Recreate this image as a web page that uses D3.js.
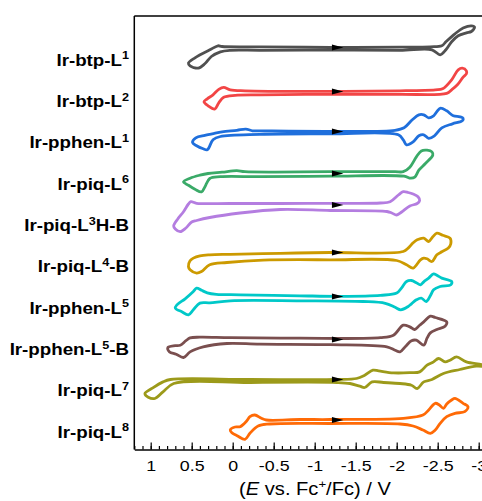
<!DOCTYPE html>
<html>
<head>
<meta charset="utf-8">
<script src="https://cdn.jsdelivr.net/npm/d3@7"></script>
<style>
  body { margin: 0; background: #fff; }
  svg { display: block; font-family: "Liberation Sans", Arial, sans-serif; }
</style>
</head>
<body>
<div id="chart"></div>
<script>
// compound labels (main text, superscript, tail)
var labelMain = ["Ir-btp-L", "Ir-btp-L", "Ir-pphen-L", "Ir-piq-L", "Ir-piq-L",
                 "Ir-piq-L", "Ir-pphen-L", "Ir-pphen-L", "Ir-piq-L", "Ir-piq-L"];
var labelSup  = ["1", "2", "1", "6", "3", "4", "5", "5", "7", "8"];
var labelTail = ["", "", "", "", "H-B", "-B", "", "-B", "", ""];

var colors = ["#505050", "#f24545", "#1f6fdc", "#3aaa68", "#b47de0",
              "#cc9a00", "#00c8c8", "#7a4f4f", "#9c9a1a", "#ff6a06"];

// vertical offset of each voltammogram (a.u.)
var offsets = [402, 358, 318, 276, 244.5, 197, 153, 110, 70, 29.5];

var majorTicks = [1, 0.5, 0, -0.5, -1, -1.5, -2, -2.5, -3];

// scan direction arrow (E, V)
var arrowFrom = -1.21, arrowTo = -1.35;

// CV loops: [E (V vs Fc+/Fc), current (a.u.)]
var cv1 = [[-2.55,1.7],[-2.60,5.7],[-2.71,13.7],[-2.81,19.4],[-2.91,21.7],[-2.95,20.4],[-2.91,16],[-2.85,14.7],
  [-2.75,11.7],[-2.67,5.7],[-2.60,-2.3],[-2.53,-7.3],[-2.43,-2.3],[-2.04,-2.8],[-1.19,-2.6],[-0.33,-2.8],[0.03,-2.8],
  [0.15,-4.3],[0.26,-9],[0.34,-16.3],[0.42,-20.6],[0.52,-18.3],[0.54,-15.6],[0.46,-10.3],[0.26,-1.6],[0.18,1.7],
  [0.13,1],[-0.33,0.7],[-1.19,0.2],[-2.04,0.4],[-2.41,0.7]];
var cv2 = [[-2.56,2.7],[-2.67,11.7],[-2.75,21.7],[-2.80,23.4],[-2.85,20.7],[-2.85,17.7],[-2.81,14.4],[-2.74,6.7],
  [-2.67,1.7],[-2.61,-1.8],[-2.04,-2.8],[-1.19,-2.8],[-0.33,-3.3],[-0.03,-3.8],[0.11,-5.8],[0.17,-11.3],[0.22,-17.6],
  [0.30,-14.3],[0.35,-10.3],[0.31,-7.3],[0.24,-3.3],[0.17,2.2],[0.11,4.2],[0.03,1.7],[-0.15,0.7],[-1.19,0.2],
  [-2.04,0.7],[-2.47,1.7]];
var cv3 = [[-0.29,0.7],[-1.19,0.2],[-1.98,1.2],[-2.09,3.7],[-2.19,11.7],[-2.27,16.7],[-2.33,16.7],[-2.39,13.7],
  [-2.45,15.7],[-2.53,23.2],[-2.61,20.7],[-2.69,15.7],[-2.77,14.7],[-2.81,13.2],[-2.80,10.7],[-2.68,7.7],[-2.55,3.7],
  [-2.46,-4.3],[-2.39,-6.8],[-2.33,-3.3],[-2.27,-4.3],[-2.20,-10.3],[-2.12,-13.3],[-2.08,-8.3],[-2.02,-3.3],
  [-1.19,-2.3],[-0.33,-2.8],[0.15,-5],[0.24,-8.3],[0.31,-18.3],[0.36,-17.3],[0.44,-14.3],[0.49,-11],[0.45,-6.3],
  [0.34,-3.8],[0.25,-2.3],[0.13,-0.3],[-0.05,1.2],[-0.16,2.4],[-0.24,0.7]];
var cv4 = [[-2.08,1.8],[-2.16,6.3],[-2.24,16.6],[-2.30,22.6],[-2.37,23.3],[-2.43,21.6],[-2.44,18.3],[-2.35,10],
  [-2.27,3.3],[-2.22,-3.7],[-2.17,-4.7],[-2.09,-2.7],[-1.19,-2.7],[-0.33,-3.2],[0.15,-3.2],[0.28,-5],[0.34,-13.4],
  [0.38,-18.4],[0.46,-15.7],[0.54,-11.7],[0.60,-8.4],[0.52,-4.7],[0.40,-1.7],[0.30,0],[0.13,1.3],[-0.05,2.8],
  [-0.15,1.8],[-1.19,1.8],[-1.98,1.8]];
var cv5 = [[-1.80,2],[-1.92,3.3],[-2.02,10],[-2.08,13.3],[-2.14,12.5],[-2.20,11],[-2.26,8.3],[-2.28,4.5],[-2.25,1.5],
  [-2.16,-1],[-2.06,-7],[-2.00,-10],[-1.94,-8],[-1.88,-6.5],[-1.19,-5.5],[-0.58,-4.5],[-0.09,-8],[0.28,-12.5],
  [0.44,-15.5],[0.50,-17],[0.57,-23],[0.64,-26.7],[0.70,-24],[0.72,-21],[0.67,-14],[0.60,-6.7],[0.54,1],[0.51,3.3],
  [0.44,1.7],[0.03,1.5],[-0.58,1.5],[-1.19,1.7]];
var cv6 = [[-2.08,1],[-2.14,4.4],[-2.20,9.7],[-2.25,12.7],[-2.33,14.4],[-2.39,11],[-2.44,15.7],[-2.49,19.4],
  [-2.56,17.2],[-2.65,14.4],[-2.66,8.7],[-2.63,4.4],[-2.55,0.7],[-2.49,-2.3],[-2.43,-9],[-2.37,-6.3],[-2.33,-5.6],
  [-2.29,-7.3],[-2.20,-15.6],[-2.12,-12.3],[-2.00,-8],[-1.19,-7.3],[-0.37,-7.6],[0.07,-10],[0.28,-12.3],[0.38,-19],
  [0.44,-20.6],[0.52,-17.3],[0.54,-14],[0.52,-8.3],[0.48,-5.6],[0.40,-3.3],[0.28,-2.3],[0.03,-1.8],[-0.58,-0.8],
  [-1.19,0]];
var cv7 = [[-1.80,1.2],[-2.00,3.4],[-2.06,8.7],[-2.12,15],[-2.18,16],[-2.24,13.7],[-2.29,11.7],[-2.33,14.7],
  [-2.39,18.4],[-2.45,22.7],[-2.49,21.2],[-2.55,18.4],[-2.67,15],[-2.66,11.7],[-2.53,10],[-2.45,6.7],[-2.41,0.7],
  [-2.36,-5],[-2.30,-1.6],[-2.24,-3.3],[-2.18,-7.3],[-2.14,-10],[-2.05,-13.3],[-1.98,-10.8],[-1.86,-6.8],
  [-1.59,-5],[-0.82,-4.3],[0.03,-4.3],[0.28,-6.3],[0.40,-6.6],[0.48,-13.3],[0.54,-18.3],[0.62,-15.3],[0.70,-11.6],
  [0.68,-8.3],[0.58,-2.3],[0.48,5],[0.44,8.4],[0.38,6.2],[0.31,3.7],[0.20,2.2],[-0.09,1.7],[-0.82,0.7],[-1.31,0.2]];
var cv8 = [[-1.80,1.8],[-1.96,4.3],[-2.08,14.3],[-2.16,12.6],[-2.22,10],[-2.28,14.3],[-2.33,17.6],[-2.41,23.3],
  [-2.47,22],[-2.61,17.6],[-2.59,13.3],[-2.49,10],[-2.41,6.6],[-2.37,1.3],[-2.33,-5.7],[-2.24,-0.7],[-2.18,-1.2],
  [-2.11,-6.7],[-2.04,-12.4],[-1.98,-10.7],[-1.88,-7.4],[-1.19,-5.2],[-0.33,-4.7],[0.07,-4],[0.36,-7.4],
  [0.52,-12.4],[0.60,-18],[0.69,-14.7],[0.77,-12.4],[0.79,-8],[0.70,-6.2],[0.64,-5.7],[0.57,-1.2],[0.52,1.6],
  [0.40,2.3],[0.03,1.8],[-0.82,1.3]];
var cv9 = [[0.76,0],[-0.21,0],[-1.27,0],[-1.51,1],[-1.61,4.3],[-1.71,9.3],[-1.78,8.6],[-1.96,6.6],[-2.16,6.8],
  [-2.28,7.6],[-2.37,14.3],[-2.45,17.6],[-2.51,21],[-2.59,17.6],[-2.65,19.3],[-2.73,22.6],[-2.85,17.6],
  [-3.04,14.8],[-3.08,13.3],[-2.97,13.3],[-2.77,10],[-2.57,6],[-2.43,0],[-2.33,-2.4],[-2.25,-9],[-2.18,-5.7],
  [-2.04,-4],[-1.84,-3],[-1.70,-2.4],[-1.61,-8],[-1.55,-6.7],[-1.43,-4],[-1.27,-3],[-0.21,-3],[0.72,-4],
  [0.85,-12.4],[0.95,-19],[1.03,-17.7],[1.07,-14],[0.98,-8.7],[0.85,-2.4]];
var cv10 = [[-1.19,0.5],[-2.08,1.7],[-2.32,5],[-2.39,10],[-2.47,16.7],[-2.52,15],[-2.57,11.7],[-2.61,16],
  [-2.67,20],[-2.71,21.7],[-2.81,16.7],[-2.87,13.3],[-2.83,8.3],[-2.71,6.7],[-2.61,3.3],[-2.53,-3.3],[-2.47,-10],
  [-2.41,-13.3],[-2.32,-10],[-2.20,-6],[-2.04,-4],[-1.19,-3.5],[-0.45,-4],[-0.31,-6],[-0.21,-13.3],[-0.15,-19.3],
  [-0.06,-16],[0.01,-12.7],[0.03,-10],[-0.03,-7],[-0.09,-6.7],[-0.17,-1],[-0.21,3.3],[-0.27,5],[-0.35,1.7],
  [-0.41,0],[-0.82,0.5]];

var curves = [cv1, cv2, cv3, cv4, cv5, cv6, cv7, cv8, cv9, cv10];

var width = 482, height = 501;
var plotLeft = 134.3, plotTop = 16, plotBottom = 449.5;
var stretch = 1.15; // the figure's text is a bit wider than it is tall

var x = d3.scaleLinear().domain([1.2, -3.2]).range([plotLeft, plotLeft + 4.4 * 82]);
var y = d3.scaleLinear().domain([0, 433.5]).range([plotBottom, plotTop]);

var svg = d3.select("#chart").append("svg")
  .attr("width", width)
  .attr("height", height);

svg.append("clipPath").attr("id", "clip")
  .append("rect")
  .attr("x", plotLeft).attr("y", plotTop)
  .attr("width", width - plotLeft).attr("height", plotBottom - plotTop);

// traces
var line = d3.line().curve(d3.curveCatmullRomClosed.alpha(0.5));
var traces = svg.append("g").attr("clip-path", "url(#clip)");

curves.forEach(function(c, i) {
  traces.append("path")
    .attr("d", line(c.map(function(p) { return [x(p[0]), y(offsets[i] + p[1])]; })))
    .attr("fill", "none")
    .attr("stroke", colors[i])
    .attr("stroke-width", 2.8)
    .attr("stroke-linejoin", "round");
});

// scan direction arrows
svg.append("g").selectAll("path")
  .data(offsets)
  .enter().append("path")
  .attr("d", function(o) {
    return "M" + x(arrowFrom) + "," + y(o + 3) +
           "L" + x(arrowTo) + "," + y(o) +
           "L" + x(arrowFrom) + "," + y(o - 3) + "Z";
  })
  .attr("fill", "#000");

// frame (left and top)
svg.append("line")
  .attr("x1", plotLeft).attr("x2", plotLeft)
  .attr("y1", plotTop).attr("y2", plotBottom)
  .attr("stroke", "#000").attr("stroke-width", 1.5);
svg.append("line")
  .attr("x1", plotLeft).attr("x2", width)
  .attr("y1", plotTop).attr("y2", plotTop)
  .attr("stroke", "#000").attr("stroke-width", 1.5);

// x axis, minor then major ticks
var minorTicks = d3.range(12, -33, -1).map(function(v) { return v / 10; });

svg.append("g")
  .attr("transform", "translate(0," + plotBottom + ")")
  .call(d3.axisBottom(x).tickValues(minorTicks).tickSizeInner(-3.5).tickSizeOuter(0).tickFormat(""))
  .call(function(g) { g.select(".domain").remove(); })
  .selectAll("line").attr("stroke-width", 1.2);

var xAxis = svg.append("g")
  .attr("transform", "translate(0," + plotBottom + ")")
  .call(d3.axisBottom(x).tickValues(majorTicks).tickSizeInner(-7).tickSizeOuter(0)
    .tickPadding(10.5).tickFormat(function(d) { return String(d); }));
xAxis.select(".domain").attr("stroke-width", 1.5);
xAxis.selectAll("line").attr("stroke-width", 1.2);
xAxis.selectAll("text")
  .attr("font-size", 15.5)
  .attr("font-family", "'Liberation Sans', Arial, sans-serif")
  .attr("fill", "#000")
  .attr("transform", "scale(" + stretch + ",1)");

// axis title
var title = svg.append("text")
  .attr("transform", "translate(315,495) scale(" + stretch + ",1)")
  .attr("text-anchor", "middle")
  .attr("font-size", 17.5);
title.append("tspan").text("(");
title.append("tspan").attr("font-style", "italic").text("E");
title.append("tspan").text(" vs. Fc");
title.append("tspan").attr("font-size", 11.5).attr("dy", -7).text("+");
title.append("tspan").attr("dy", 7).text("/Fc) / V");

// compound labels
var labelY = d3.scalePoint().domain(d3.range(labelMain.length)).range([60, 432]);

labelMain.forEach(function(m, i) {
  var t = svg.append("text")
    .attr("transform", "translate(129," + (labelY(i) + 5.8) + ") scale(" + stretch + ",1)")
    .attr("text-anchor", "end")
    .attr("font-weight", "bold")
    .attr("font-size", 16.3);
  t.append("tspan").text(m);
  t.append("tspan").attr("font-size", 11).attr("dy", -6.5).text(labelSup[i]);
  if (labelTail[i]) t.append("tspan").attr("dy", 6.5).text(labelTail[i]);
});
</script>
</body>
</html>
